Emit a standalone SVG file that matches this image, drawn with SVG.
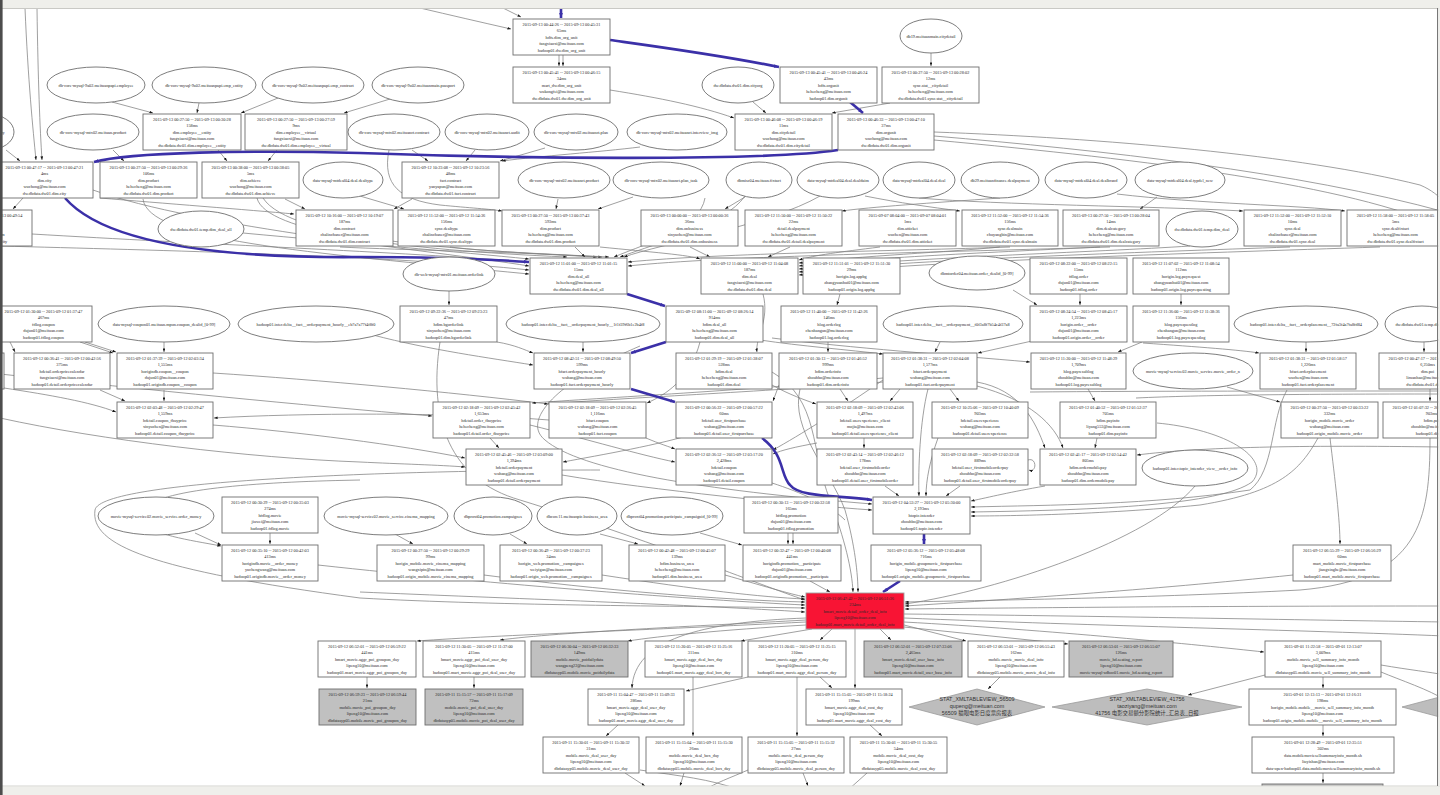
<svg xmlns="http://www.w3.org/2000/svg" width="1440" height="795" viewBox="0 0 1440 795">
<defs>
<marker id="ah" viewBox="0 0 8 6" refX="8" refY="3" markerWidth="3.6" markerHeight="2.8" markerUnits="userSpaceOnUse" orient="auto"><path d="M0,0L8,3L0,6z" fill="#1a1a1a"/></marker>
<marker id="bh" viewBox="0 0 8 6" refX="8" refY="3" markerWidth="5" markerHeight="4" markerUnits="userSpaceOnUse" orient="auto"><path d="M0,0L8,3L0,6z" fill="#3b30a8"/></marker>
<style>
.nd rect{fill:#fff;stroke:#6e6e6e;stroke-width:0.9}
.g rect{fill:#c0c0c0}
.r rect{fill:#f81434;stroke:#a0a0a0}
text{font-family:"Liberation Serif","Times New Roman",serif;font-size:4.3px;fill:#2a2a2a;text-anchor:middle}
.el ellipse{fill:#fff;stroke:#6e6e6e;stroke-width:0.9}
.dm polygon{fill:#bdbdbd;stroke:#9a9a9a;stroke-width:0.8}
.dm text{font-family:"Liberation Sans","Noto Sans CJK SC",Arial,sans-serif;font-size:5.4px;fill:#333}
#edges path{fill:none;stroke:#808080;stroke-width:0.75}
#edges path.m{marker-end:url(#ah)}
#edges path.hl{stroke:#3b30a8;stroke-width:2.6;marker-end:url(#bh)}
</style>
</defs>
<rect x="0" y="0" width="1440" height="795" fill="#fff"/>
<g id="edges">
<path class="m" d="M25,8 C28,80 33,130 36,160"/>
<path class="m" d="M37,8 C38,80 40,130 42,160"/>
<path class="m" d="M420,8 C450,15 480,22 511,29"/>
<path class="m" d="M503,8 L521,17"/>
<path class="m" d="M559,55 L559,66"/>
<path class="m" d="M563,55 L563,66"/>
<path class="m" d="M610,90 C660,98 700,106 734,118"/>
<path class="m" d="M931,53 L931,66"/>
<path class="m" d="M753,102 L766,113"/>
<path class="m" d="M890,103 L832,113"/>
<path class="m" d="M112,102 L153,113"/>
<path class="m" d="M199,103 L197,113"/>
<path class="m" d="M278,98 L241,113"/>
<path class="m" d="M390,99 L344,113"/>
<path class="m" d="M218,150 L227,161"/>
<path class="m" d="M277,150 L268,161"/>
<path class="m" d="M113,150 L124,161"/>
<path class="m" d="M6,150 L20,161"/>
<path class="m" d="M412,150 L428,161"/>
<path class="m" d="M475,150 L466,161"/>
<path class="m" d="M545,148 L500,161"/>
<path class="m" d="M640,147 C600,152 540,156 502,161"/>
<path d="M934,132 C1100,138 1300,155 1420,185 C1432,190 1438,196 1445,202"/>
<path d="M934,136 C1100,150 1300,172 1445,212"/>
<path d="M934,140 C1150,160 1350,185 1445,228"/>
<path class="m" d="M23,198 L13,209"/>
<path class="m" d="M100,198 C160,203 250,210 294,214"/>
<path class="m" d="M285,199 L305,209"/>
<path class="m" d="M412,199 L394,209"/>
<path class="m" d="M360,196 L404,209"/>
<path class="m" d="M389,150 C382,185 400,200 440,205 C470,208 490,209 502,211"/>
<path class="m" d="M558,199 L556,209"/>
<path class="m" d="M633,197 L598,209"/>
<path class="m" d="M745,197 L725,209"/>
<path class="m" d="M865,196 C900,203 930,207 960,211"/>
<path class="m" d="M1000,198 C930,203 870,207 842,211"/>
<path class="m" d="M1157,197 L1140,209"/>
<path class="m" d="M1117,194 C1200,204 1300,205 1345,211"/>
<path class="m" d="M919,198 C1000,205 1150,206 1243,211"/>
<path class="m" d="M93,190 C200,228 430,250 529,266"/>
<path class="m" d="M0,246 C150,250 400,256 529,270"/>
<path class="m" d="M32,234 C200,244 400,252 529,262"/>
<path class="m" d="M143,199 C148,240 300,252 529,274"/>
<path class="m" d="M243,233 C350,243 460,252 529,259"/>
<path class="m" d="M257,198 C265,232 400,250 567,257"/>
<path class="m" d="M263,198 C290,240 460,250 597,257"/>
<path class="m" d="M340,247 C400,250 520,252 602,257"/>
<path class="m" d="M450,247 C490,252 570,255 609,257"/>
<path class="m" d="M575,247 L585,257"/>
<path class="m" d="M705,198 C700,228 650,242 614,257"/>
<path class="m" d="M745,196 C725,225 660,242 620,257"/>
<path class="m" d="M820,196 C770,225 660,244 624,257"/>
<path class="m" d="M690,247 L710,257"/>
<path class="m" d="M790,247 L768,257"/>
<path class="m" d="M880,247 C840,252 815,255 799,260"/>
<path class="m" d="M1000,247 C950,252 860,256 799,263"/>
<path class="m" d="M1100,247 C1000,252 860,258 799,266"/>
<path class="m" d="M1190,246 C1100,252 900,258 799,269"/>
<path class="m" d="M1290,247 C1150,252 900,260 799,272"/>
<path class="m" d="M1380,247 C1200,253 900,262 799,275"/>
<path class="m" d="M1010,247 C900,251 720,253 628,262"/>
<path class="m" d="M1110,247 C950,252 720,256 628,266"/>
<path class="m" d="M600,247 C650,252 690,255 700,259"/>
<path class="m" d="M449,291 L449,305"/>
<path class="m" d="M763,294 C770,320 755,338 757,352"/>
<path class="m" d="M840,294 L837,305"/>
<path class="m" d="M1013,290 L1037,305"/>
<path class="m" d="M1080,294 L1080,305"/>
<path class="m" d="M1181,294 L1181,305"/>
<path class="m" d="M164,342 L164,352"/>
<path class="m" d="M85,342 L116,352"/>
<path class="m" d="M80,342 L113,353"/>
<path class="m" d="M10,342 L15,352"/>
<path class="m" d="M373,335 C430,350 490,358 533,365"/>
<path class="m" d="M497,342 C515,345 525,350 533,353"/>
<path class="m" d="M440,342 C428,420 450,480 520,500 C650,540 760,585 805,600"/>
<path class="m" d="M583,342 L583,352"/>
<path class="m" d="M700,342 C690,380 665,395 647,403"/>
<path class="m" d="M828,342 L828,352"/>
<path class="m" d="M760,340 C800,346 850,350 883,354"/>
<path class="m" d="M940,342 L935,352"/>
<path class="m" d="M1032,341 L978,353"/>
<path class="m" d="M772,338 C850,348 950,355 1030,362"/>
<path class="m" d="M1142,342 L1118,352"/>
<path class="m" d="M1143,343 C1200,347 1240,350 1259,353"/>
<path class="m" d="M1306,342 L1306,352"/>
<path class="m" d="M1424,342 L1424,352"/>
<path class="m" d="M1430,389 L1430,401"/>
<path class="m" d="M1227,387 L1280,402"/>
<path class="m" d="M1088,389 L1095,401"/>
<path d="M1440,391 C1300,391 1150,391 1030,392"/>
<path d="M1440,394 C1300,394 1200,395 1136,398"/>
<path class="m" d="M1287,390 C1270,420 1275,470 1250,490 C1150,505 1050,505 971,507"/>
<path class="m" d="M1157,423 C1230,430 1272,460 1252,482 C1220,505 1100,510 971,512"/>
<path class="m" d="M1097,438 L1095,448"/>
<path class="m" d="M1330,438 C1335,480 1340,520 1340,544"/>
<path class="m" d="M1318,438 C1300,470 1280,492 1200,505 C1100,515 1000,516 971,516"/>
<path class="m" d="M1430,438 C1430,520 1420,580 1300,590 C1150,598 1000,600 905,602"/>
<path class="m" d="M1440,447 C1300,445 1200,447 1137,455"/>
<path class="m" d="M164,390 L164,401"/>
<path class="m" d="M100,390 L125,401"/>
<path class="m" d="M4,388 C50,395 90,402 116,412"/>
<path class="m" d="M0,374 C150,390 300,405 432,416"/>
<path class="m" d="M213,373 C320,380 450,392 548,404"/>
<path class="m" d="M549,420 C450,412 300,413 214,418"/>
<path class="m" d="M213,425 C300,432 400,445 465,458"/>
<path class="m" d="M0,418 C100,440 250,458 360,462 C400,464 440,465 465,467"/>
<path class="m" d="M600,470 C400,470 100,480 95,510 C90,545 150,570 360,598 C500,606 700,606 805,608"/>
<path class="m" d="M490,438 L499,448"/>
<path class="m" d="M646,438 C660,444 670,447 675,449"/>
<path class="m" d="M700,432 C660,445 600,455 563,462"/>
<path class="m" d="M530,425 C590,440 640,455 675,462"/>
<path class="m" d="M640,346 C560,380 520,420 545,440 C580,470 700,490 872,504"/>
<path class="m" d="M562,475 C650,490 800,505 872,510"/>
<path class="m" d="M883,378 C750,390 600,398 532,403"/>
<path class="m" d="M883,382 C760,392 620,398 548,404"/>
<path class="m" d="M772,385 C790,395 805,400 816,404"/>
<path class="m" d="M840,389 L848,401"/>
<path class="m" d="M900,389 L890,401"/>
<path class="m" d="M950,389 L959,401"/>
<path class="m" d="M928,389 C920,420 918,470 919,496"/>
<path class="m" d="M977,382 C1020,390 1035,420 1045,448"/>
<path class="m" d="M977,386 C1030,400 1055,425 1063,448"/>
<path class="m" d="M864,438 L864,448"/>
<path class="m" d="M938,438 C930,460 926,480 926,496"/>
<path class="m" d="M885,486 L899,496"/>
<path class="m" d="M960,486 L946,496"/>
<path class="m" d="M1028,460 C1037,457 1037,473 1029,470"/>
<path class="m" d="M1045,486 C1010,492 990,497 971,501"/>
<path class="m" d="M772,372 C820,400 810,450 830,500 C845,540 852,570 853,592"/>
<path class="m" d="M800,389 C790,430 830,470 845,510 C855,545 858,575 858,592"/>
<path class="m" d="M883,380 C840,410 800,435 773,450"/>
<path class="m" d="M779,385 L773,401"/>
<path class="m" d="M817,443 C795,447 782,450 773,454"/>
<path d="M772,483 C800,492 830,505 845,520"/>
<path class="m" d="M788,533 L788,544"/>
<path class="m" d="M793,533 L793,544"/>
<path class="m" d="M700,533 L742,545"/>
<path class="m" d="M270,533 L270,544"/>
<path class="m" d="M195,533 L221,545"/>
<path class="m" d="M395,534 L413,544"/>
<path class="m" d="M510,534 L527,544"/>
<path class="m" d="M600,534 L638,544"/>
<path class="m" d="M360,480 C250,482 130,490 140,520 C150,535 190,540 221,546"/>
<path class="m" d="M318,565 C500,585 700,600 805,605"/>
<path class="m" d="M484,575 C600,590 720,600 805,602"/>
<path class="m" d="M602,575 C700,590 760,597 805,599"/>
<path class="m" d="M725,575 C760,585 790,594 805,597"/>
<path class="m" d="M360,592 C500,598 700,605 805,612"/>
<path class="m" d="M810,581 L830,592"/>
<path class="m" d="M1293,575 C1150,590 1000,600 905,606"/>
<path class="m" d="M1195,486 C1150,540 1000,590 905,604"/>
<path class="m" d="M1440,606 C1200,606 1000,608 905,609"/>
<path d="M904,614 C1100,616 1300,620 1445,622"/>
<path d="M904,618 C1100,626 1300,630 1445,636"/>
<path class="m" d="M904,622 C1050,630 1200,645 1264,652"/>
<path class="m" d="M806,622 C650,630 500,635 417,641"/>
<path class="m" d="M806,620 C700,626 560,632 500,640"/>
<path class="m" d="M806,625 C720,630 660,636 628,641"/>
<path class="m" d="M806,618 C700,622 634,640 632,688"/>
<path class="m" d="M812,629 L741,641"/>
<path class="m" d="M832,629 L820,640"/>
<path class="m" d="M855,629 L855,688"/>
<path class="m" d="M880,629 L891,640"/>
<path class="m" d="M904,625 L966,641"/>
<path class="m" d="M904,627 L1068,644"/>
<path class="m" d="M1265,675 L1188,695"/>
<path class="m" d="M1323,677 L1323,688"/>
<path class="m" d="M1323,725 L1323,736"/>
<path class="m" d="M1323,773 L1323,783"/>
<path d="M1381,665 C1410,670 1430,672 1445,675"/>
<path d="M1381,672 C1400,680 1430,690 1445,700"/>
<path class="m" d="M1000,677 L988,689"/>
<path class="m" d="M367,677 L367,688"/>
<path class="m" d="M474,677 L474,688"/>
<path class="m" d="M618,725 L606,736"/>
<path class="m" d="M693,677 L693,736"/>
<path class="m" d="M748,677 L686,691"/>
<path class="m" d="M797,677 L797,736"/>
<path class="m" d="M820,677 L832,688"/>
<path class="m" d="M870,725 L882,736"/>
<path class="m" d="M625,773 L645,786"/>
<path class="m" d="M684,773 L680,786"/>
<path d="M748,770 C730,778 715,783 705,790"/>
<path class="m" d="M803,773 L808,786"/>
<path d="M867,773 L848,790"/>
<path d="M640,770 C680,776 710,779 740,790"/>
<path class="hl" d="M561,8 L561,18"/>
<path class="hl" d="M610,40 C660,47 720,55 779,67"/>
<path class="hl" d="M850,102 L863,113"/>
<path class="hl" d="M838,150 C760,162 500,158 360,153 C250,150 130,152 94,162"/>
<path class="hl" d="M65,198 C110,250 250,258 360,257 C450,257 500,260 529,262"/>
<path class="hl" d="M627,294 L665,306"/>
<path class="hl" d="M666,342 L631,353"/>
<path class="hl" d="M631,389 L675,402"/>
<path class="hl" d="M762,438 C785,455 780,475 790,485 C800,498 840,495 872,500"/>
<path class="hl" d="M924,533 L924,544"/>
<path class="hl" d="M900,581 L883,592"/>
</g>
<g id="ellipses">
<g id="e_employee" class="el"><ellipse cx="96" cy="85" rx="49" ry="18"/><text x="96" y="86.5">db-core-mysql-9a02.meituanpapi.employee</text></g>
<g id="e_emp_entity" class="el"><ellipse cx="204" cy="85" rx="52" ry="18"/><text x="204" y="86.5">db-core-mysql-9a02.meituanpapi.emp_entity</text></g>
<g id="e_emp_contract" class="el"><ellipse cx="313" cy="85" rx="51" ry="18"/><text x="313" y="86.5">db-core-mysql-9a02.meituanpapi.emp_contract</text></g>
<g id="e_passport" class="el"><ellipse cx="418" cy="85" rx="46" ry="18"/><text x="418" y="86.5">db-core-mysql-9a02.meituanmain.passport</text></g>
<g id="e_cityorg" class="el"><ellipse cx="738" cy="85" rx="36" ry="18"/><text x="738" y="86.5">dw.dbdata.dw01.dim.cityorg</text></g>
<g id="e_citydetail" class="el"><ellipse cx="931" cy="36" rx="31" ry="17"/><text x="931" y="37.5">db19.meituanmain.citydetail</text></g>
<g id="e_city" class="el"><ellipse cx="-12" cy="132" rx="26" ry="18"/><text x="-12" y="133.5">mtx02.meituan.city</text></g>
<g id="e_product" class="el"><ellipse cx="93" cy="132" rx="46" ry="18"/><text x="93" y="133.5">db-core-mysql-mtx02.meituan.product</text></g>
<g id="e_contract" class="el"><ellipse cx="394" cy="132" rx="46" ry="18"/><text x="394" y="133.5">db-core-mysql-mtx02.meituanct.contract</text></g>
<g id="e_audit" class="el"><ellipse cx="487" cy="132" rx="42" ry="18"/><text x="487" y="133.5">db-core-mysql-mtx02.meituanct.audit</text></g>
<g id="e_plan" class="el"><ellipse cx="576" cy="132" rx="42" ry="18"/><text x="576" y="133.5">db-core-mysql-mtx02.meituanct.plan</text></g>
<g id="e_interview" class="el"><ellipse cx="677" cy="132" rx="50" ry="18"/><text x="677" y="133.5">db-core-mysql-mtx02.meituanct.interview_img</text></g>
<g id="e_dealtype" class="el"><ellipse cx="343" cy="180" rx="40" ry="18"/><text x="343" y="181.5">data-mysql-mtdeal04.deal.dealtype</text></g>
<g id="e_ct_product" class="el"><ellipse cx="564" cy="180" rx="46" ry="18"/><text x="564" y="181.5">db-core-mysql-mtx02.meituanct.product</text></g>
<g id="e_plan_task" class="el"><ellipse cx="661" cy="180" rx="48" ry="18"/><text x="661" y="181.5">db-core-mysql-mtx02.meituanct.plan_task</text></g>
<g id="e_fixtact" class="el"><ellipse cx="759" cy="180" rx="33" ry="18"/><text x="759" y="181.5">dbmisc04.meituan.fixtact</text></g>
<g id="e_dealdaim" class="el"><ellipse cx="838" cy="180" rx="41" ry="18"/><text x="838" y="181.5">data-mysql-mtdeal04.deal.dealdaim</text></g>
<g id="e_deal" class="el"><ellipse cx="919" cy="180" rx="36" ry="18"/><text x="919" y="181.5">data-mysql-mtdeal04.deal.deal</text></g>
<g id="e_dealpayment" class="el"><ellipse cx="1000" cy="180" rx="39" ry="18"/><text x="1000" y="181.5">db29.meituanfinance.dealpayment</text></g>
<g id="e_dealbrand" class="el"><ellipse cx="1086" cy="180" rx="41" ry="18"/><text x="1086" y="181.5">data-mysql-mtdeal04.deal.dealbrand</text></g>
<g id="e_typdel" class="el"><ellipse cx="1180" cy="180" rx="45" ry="18"/><text x="1180" y="181.5">data-mysql-mtdeal04.deal.typdel_new</text></g>
<g id="e_temp_deal_all" class="el"><ellipse cx="201" cy="229" rx="43" ry="18"/><text x="201" y="230.5">dw.dbdata.dw01.temp.dim_deal_all</text></g>
<g id="e_temp_deal" class="el"><ellipse cx="1202" cy="229" rx="36" ry="18"/><text x="1202" y="230.5">dw.dbdata.dw01.temp.dim_deal</text></g>
<g id="e_orderlink" class="el"><ellipse cx="449" cy="274" rx="46" ry="17"/><text x="449" y="275.5">db-web-mysql-mtx01.meituan.orderlink</text></g>
<g id="e_order_dealid" class="el"><ellipse cx="977" cy="273" rx="48" ry="17"/><text x="977" y="274.5">dbmtorder04.meituan.order_dealid_[0-99]</text></g>
<g id="e_coupon_dealid" class="el"><ellipse cx="164" cy="324" rx="66" ry="18"/><text x="164" y="325.5">data-mysql-coupon01.meituan.mpon.coupon_dealid_[0-99]</text></g>
<g id="e_delta_eb7" class="el"><ellipse cx="316" cy="324" rx="78" ry="18"/><text x="316" y="325.5">hadoop01.inter.delta__fact__orderpayment_hourly__eb7a7a77f4f8f0</text></g>
<g id="e_delta_1f1" class="el"><ellipse cx="583" cy="324" rx="77" ry="18"/><text x="583" y="325.5">hadoop01.inter.delta__fact__orderpayment_hourly__1f1f39f6b1e2b4f8</text></g>
<g id="e_delta_f0f" class="el"><ellipse cx="953" cy="324" rx="70" ry="18"/><text x="953" y="325.5">hadoop01.inter.delta__fact__orderpayment__f0f3a8f7b54c4f37a8</text></g>
<g id="e_delta_72f" class="el"><ellipse cx="1306" cy="324" rx="72" ry="18"/><text x="1306" y="325.5">hadoop01.inter.delta__fact__orderplacement__72fa3f4a7fa8fd84</text></g>
<g id="e_temp_poi" class="el"><ellipse cx="1422" cy="324" rx="37" ry="18"/><text x="1422" y="325.5">dw.dbdata.dw01.temp.dim_poi</text></g>
<g id="e_movie_order_n" class="el"><ellipse cx="1193" cy="371" rx="60" ry="18"/><text x="1193" y="372.5">movie-mysql-service02.movie_service.movie_order_n</text></g>
<g id="e_topic_view" class="el"><ellipse cx="1195" cy="468" rx="53" ry="18"/><text x="1195" y="469.5">hadoop01.inter.topic_intender_view__order_info</text></g>
<g id="e_order_money" class="el"><ellipse cx="156" cy="516" rx="58" ry="19"/><text x="156" y="517.5">movie-mysql-service02.movie_service.order_money</text></g>
<g id="e_cinema_mapping" class="el"><ellipse cx="386" cy="516" rx="62" ry="19"/><text x="386" y="517.5">movie-mysql-service02.movie_service.cinema_mapping</text></g>
<g id="e_campaignes" class="el"><ellipse cx="493" cy="516" rx="39" ry="19"/><text x="493" y="517.5">dbproxt04.promotion.campaignes</text></g>
<g id="e_business_area" class="el"><ellipse cx="577" cy="516" rx="40" ry="19"/><text x="577" y="517.5">dbcore11.meituanpic.business_area</text></g>
<g id="e_participate" class="el"><ellipse cx="672" cy="516" rx="51" ry="19"/><text x="672" y="517.5">dbproxt04.promotion.participate_campaignid_[0-99]</text></g>
</g>
<g id="boxes">
<g id="n_hdfs_dim_org_unit" class="nd" transform="translate(513,19)"><rect width="97" height="36"/><text y="6.5"><tspan x="48.5">2015-09-13 00:44:26 -- 2015-09-13 00:45:31</tspan><tspan x="48.5" dy="6.5">65ms</tspan><tspan x="48.5" dy="6.5">hdfs.dim_org_unit</tspan><tspan x="48.5" dy="6.5">fangxiaoxi@meituan.com</tspan><tspan x="48.5" dy="6.5">hadoop01.dw.dim_org_unit</tspan></text></g>
<g id="n_mart_dim_org_unit" class="nd" transform="translate(513,67)"><rect width="97" height="36"/><text y="6.5"><tspan x="48.5">2015-09-13 00:45:41 -- 2015-09-13 00:46:15</tspan><tspan x="48.5" dy="6.5">34ms</tspan><tspan x="48.5" dy="6.5">mart_dw.dim_org_unit</tspan><tspan x="48.5" dy="6.5">wukongfei@meituan.com</tspan><tspan x="48.5" dy="6.5">dw.dbdata.dw01.dw.dim_org_unit</tspan></text></g>
<g id="n_hdfs_orgunit" class="nd" transform="translate(780,67)"><rect width="97" height="36"/><text y="6.5"><tspan x="48.5">2015-09-13 00:45:41 -- 2015-09-13 00:46:24</tspan><tspan x="48.5" dy="6.5">43ms</tspan><tspan x="48.5" dy="6.5">hdfs.orgunit</tspan><tspan x="48.5" dy="6.5">hehecheng@meituan.com</tspan><tspan x="48.5" dy="6.5">hadoop01.dim.orgunit</tspan></text></g>
<g id="n_sync_stat_citydetail" class="nd" transform="translate(882,67)"><rect width="97" height="36"/><text y="6.5"><tspan x="48.5">2015-09-13 00:27:50 -- 2015-09-13 00:28:02</tspan><tspan x="48.5" dy="6.5">12ms</tspan><tspan x="48.5" dy="6.5">sync.stat__citydetail</tspan><tspan x="48.5" dy="6.5">hehecheng@meituan.com</tspan><tspan x="48.5" dy="6.5">dw.dbdata.dw01.sync.stat__citydetail</tspan></text></g>
<g id="n_dim_employee_entity" class="nd" transform="translate(143,114)"><rect width="98" height="36"/><text y="6.5"><tspan x="49">2015-09-13 00:27:50 -- 2015-09-13 00:30:28</tspan><tspan x="49" dy="6.5">158ms</tspan><tspan x="49" dy="6.5">dim.employee__entity</tspan><tspan x="49" dy="6.5">fangxiaoxi@meituan.com</tspan><tspan x="49" dy="6.5">dw.dbdata.dw01.dim.employee__entity</tspan></text></g>
<g id="n_dim_employee_virtual" class="nd" transform="translate(245,114)"><rect width="102" height="36"/><text y="6.5"><tspan x="51">2015-09-13 00:27:50 -- 2015-09-13 00:27:59</tspan><tspan x="51" dy="6.5">9ms</tspan><tspan x="51" dy="6.5">dim.employee__virtual</tspan><tspan x="51" dy="6.5">fangxiaoxi@meituan.com</tspan><tspan x="51" dy="6.5">dw.dbdata.dw01.dim.employee__virtual</tspan></text></g>
<g id="n_dim_citydetail" class="nd" transform="translate(735,114)"><rect width="97" height="36"/><text y="6.5"><tspan x="48.5">2015-09-13 00:46:08 -- 2015-09-13 00:46:19</tspan><tspan x="48.5" dy="6.5">11ms</tspan><tspan x="48.5" dy="6.5">dim.citydetail</tspan><tspan x="48.5" dy="6.5">wuchong@meituan.com</tspan><tspan x="48.5" dy="6.5">dw.dbdata.dw01.dim.citydetail</tspan></text></g>
<g id="n_dim_orgunit" class="nd" transform="translate(838,114)"><rect width="96" height="36"/><text y="6.5"><tspan x="48">2015-09-13 00:46:33 -- 2015-09-13 00:47:10</tspan><tspan x="48" dy="6.5">37ms</tspan><tspan x="48" dy="6.5">dim.orgunit</tspan><tspan x="48" dy="6.5">wuchong@meituan.com</tspan><tspan x="48" dy="6.5">dw.dbdata.dw01.dim.orgunit</tspan></text></g>
<g id="n_dim_city" class="nd" transform="translate(-4,162)"><rect width="97" height="36"/><text y="6.5"><tspan x="48.5">2015-09-13 00:47:17 -- 2015-09-13 00:47:21</tspan><tspan x="48.5" dy="6.5">4ms</tspan><tspan x="48.5" dy="6.5">dim.city</tspan><tspan x="48.5" dy="6.5">wuchong@meituan.com</tspan><tspan x="48.5" dy="6.5">dw.dbdata.dw01.dim.city</tspan></text></g>
<g id="n_dim_product" class="nd" transform="translate(100,162)"><rect width="97" height="36"/><text y="6.5"><tspan x="48.5">2015-09-13 00:27:50 -- 2015-09-13 00:29:36</tspan><tspan x="48.5" dy="6.5">106ms</tspan><tspan x="48.5" dy="6.5">dim.product</tspan><tspan x="48.5" dy="6.5">hehecheng@meituan.com</tspan><tspan x="48.5" dy="6.5">dw.dbdata.dw01.dim.product</tspan></text></g>
<g id="n_dim_achieve" class="nd" transform="translate(202,162)"><rect width="97" height="36"/><text y="6.5"><tspan x="48.5">2015-09-13 00:38:00 -- 2015-09-13 00:38:05</tspan><tspan x="48.5" dy="6.5">5ms</tspan><tspan x="48.5" dy="6.5">dim.achieve</tspan><tspan x="48.5" dy="6.5">wuchong@meituan.com</tspan><tspan x="48.5" dy="6.5">dw.dbdata.dw01.dim.achieve</tspan></text></g>
<g id="n_fact_contract" class="nd" transform="translate(402,162)"><rect width="97" height="36"/><text y="6.5"><tspan x="48.5">2015-09-12 10:23:08 -- 2015-09-12 10:23:56</tspan><tspan x="48.5" dy="6.5">48ms</tspan><tspan x="48.5" dy="6.5">fact.contract</tspan><tspan x="48.5" dy="6.5">yanyapun@meituan.com</tspan><tspan x="48.5" dy="6.5">dw.dbdata.dw01.fact.contract</tspan></text></g>
<g id="n_dim_ebcity" class="nd" transform="translate(-65,210)"><rect width="97" height="36"/><text y="6.5"><tspan x="48.5">2015-09-13 00:49:50 -- 2015-09-13 00:49:54</tspan><tspan x="48.5" dy="6.5">4ms</tspan><tspan x="48.5" dy="6.5">dim.ebcity</tspan><tspan x="48.5" dy="6.5">wuchong@meituan.com</tspan><tspan x="48.5" dy="6.5">dw.dbdata.dw01.dim.ebcity</tspan></text></g>
<g id="n_dim_contract" class="nd" transform="translate(296,210)"><rect width="97" height="36"/><text y="6.5"><tspan x="48.5">2015-09-12 10:16:00 -- 2015-09-12 10:19:07</tspan><tspan x="48.5" dy="6.5">187ms</tspan><tspan x="48.5" dy="6.5">dim.contract</tspan><tspan x="48.5" dy="6.5">chalinchaner@meituan.com</tspan><tspan x="48.5" dy="6.5">dw.dbdata.dw01.dim.contract</tspan></text></g>
<g id="n_sync_dealtype" class="nd" transform="translate(398,210)"><rect width="97" height="36"/><text y="6.5"><tspan x="48.5">2015-09-12 11:52:00 -- 2015-09-12 11:54:36</tspan><tspan x="48.5" dy="6.5">156ms</tspan><tspan x="48.5" dy="6.5">sync.dealtype</tspan><tspan x="48.5" dy="6.5">chalinchaner@meituan.com</tspan><tspan x="48.5" dy="6.5">dw.dbdata.dw01.sync.dealtype</tspan></text></g>
<g id="n_dim_product_ct" class="nd" transform="translate(502,210)"><rect width="97" height="36"/><text y="6.5"><tspan x="48.5">2015-09-13 00:27:50 -- 2015-09-13 00:37:43</tspan><tspan x="48.5" dy="6.5">593ms</tspan><tspan x="48.5" dy="6.5">dim.product</tspan><tspan x="48.5" dy="6.5">hehecheng@meituan.com</tspan><tspan x="48.5" dy="6.5">dw.dbdata.dw01.dim.product</tspan></text></g>
<g id="n_dim_onbusiness" class="nd" transform="translate(641,210)"><rect width="97" height="36"/><text y="6.5"><tspan x="48.5">2015-09-13 00:00:00 -- 2015-09-13 00:00:36</tspan><tspan x="48.5" dy="6.5">36ms</tspan><tspan x="48.5" dy="6.5">dim.onbusiness</tspan><tspan x="48.5" dy="6.5">xinyuchen@meituan.com</tspan><tspan x="48.5" dy="6.5">dw.dbdata.dw01.dim.onbusiness</tspan></text></g>
<g id="n_detail_dealpayment" class="nd" transform="translate(745,210)"><rect width="97" height="36"/><text y="6.5"><tspan x="48.5">2015-09-12 11:50:00 -- 2015-09-12 11:50:22</tspan><tspan x="48.5" dy="6.5">22ms</tspan><tspan x="48.5" dy="6.5">detail.dealpayment</tspan><tspan x="48.5" dy="6.5">hehecheng@meituan.com</tspan><tspan x="48.5" dy="6.5">dw.dbdata.dw01.detail.dealpayment</tspan></text></g>
<g id="n_dim_atticket" class="nd" transform="translate(859,210)"><rect width="97" height="36"/><text y="6.5"><tspan x="48.5">2015-09-07 08:04:00 -- 2015-09-07 08:04:01</tspan><tspan x="48.5" dy="6.5">1ms</tspan><tspan x="48.5" dy="6.5">dim.atticket</tspan><tspan x="48.5" dy="6.5">wuchen@meituan.com</tspan><tspan x="48.5" dy="6.5">dw.dbdata.dw01.dim.atticket</tspan></text></g>
<g id="n_sync_dealmain" class="nd" transform="translate(962,210)"><rect width="96" height="36"/><text y="6.5"><tspan x="48">2015-09-12 11:52:00 -- 2015-09-12 11:54:36</tspan><tspan x="48" dy="6.5">156ms</tspan><tspan x="48" dy="6.5">sync.dealmain</tspan><tspan x="48" dy="6.5">chuyangbin@meituan.com</tspan><tspan x="48" dy="6.5">dw.dbdata.dw01.sync.dealmain</tspan></text></g>
<g id="n_dim_dealcategory" class="nd" transform="translate(1063,210)"><rect width="96" height="36"/><text y="6.5"><tspan x="48">2015-09-13 00:27:50 -- 2015-09-13 00:28:04</tspan><tspan x="48" dy="6.5">14ms</tspan><tspan x="48" dy="6.5">dim.dealcategory</tspan><tspan x="48" dy="6.5">hehecheng@meituan.com</tspan><tspan x="48" dy="6.5">dw.dbdata.dw01.dim.dealcategory</tspan></text></g>
<g id="n_sync_deal" class="nd" transform="translate(1244,210)"><rect width="97" height="36"/><text y="6.5"><tspan x="48.5">2015-09-12 11:52:00 -- 2015-09-12 11:52:10</tspan><tspan x="48.5" dy="6.5">10ms</tspan><tspan x="48.5" dy="6.5">sync.deal</tspan><tspan x="48.5" dy="6.5">chalinchaner@meituan.com</tspan><tspan x="48.5" dy="6.5">dw.dbdata.dw01.sync.deal</tspan></text></g>
<g id="n_sync_dealfixtact" class="nd" transform="translate(1347,210)"><rect width="97" height="36"/><text y="6.5"><tspan x="48.5">2015-09-12 11:58:00 -- 2015-09-12 11:58:05</tspan><tspan x="48.5" dy="6.5">5ms</tspan><tspan x="48.5" dy="6.5">sync.dealfixtact</tspan><tspan x="48.5" dy="6.5">hehecheng@meituan.com</tspan><tspan x="48.5" dy="6.5">dw.dbdata.dw01.sync.dealfixtact</tspan></text></g>
<g id="n_dim_deal_all" class="nd" transform="translate(530,258)"><rect width="97" height="36"/><text y="6.5"><tspan x="48.5">2015-09-12 11:01:00 -- 2015-09-12 11:01:15</tspan><tspan x="48.5" dy="6.5">15ms</tspan><tspan x="48.5" dy="6.5">dim.deal_all</tspan><tspan x="48.5" dy="6.5">hehecheng@meituan.com</tspan><tspan x="48.5" dy="6.5">dw.dbdata.dw01.dim.deal_all</tspan></text></g>
<g id="n_dim_deal" class="nd" transform="translate(701,258)"><rect width="97" height="36"/><text y="6.5"><tspan x="48.5">2015-09-12 11:00:00 -- 2015-09-12 11:04:08</tspan><tspan x="48.5" dy="6.5">187ms</tspan><tspan x="48.5" dy="6.5">dim.deal</tspan><tspan x="48.5" dy="6.5">fangxiaoxi@meituan.com</tspan><tspan x="48.5" dy="6.5">dw.dbdata.dw01.dim.deal</tspan></text></g>
<g id="n_horigin_log_appbg" class="nd" transform="translate(803,258)"><rect width="97" height="36"/><text y="6.5"><tspan x="48.5">2015-09-12 11:51:01 -- 2015-09-12 11:51:30</tspan><tspan x="48.5" dy="6.5">29ms</tspan><tspan x="48.5" dy="6.5">horigin.log.appbg</tspan><tspan x="48.5" dy="6.5">zhangyuanhui01@meituan.com</tspan><tspan x="48.5" dy="6.5">hadoop01.origin.log.appbg</tspan></text></g>
<g id="n_fdlog_order" class="nd" transform="translate(1030,258)"><rect width="97" height="36"/><text y="6.5"><tspan x="48.5">2015-09-12 08:22:00 -- 2015-09-12 08:22:15</tspan><tspan x="48.5" dy="6.5">15ms</tspan><tspan x="48.5" dy="6.5">fdlog.order</tspan><tspan x="48.5" dy="6.5">dujun01@meituan.com</tspan><tspan x="48.5" dy="6.5">hadoop01.fdlog.order</tspan></text></g>
<g id="n_horigin_log_payrequest" class="nd" transform="translate(1133,258)"><rect width="96" height="36"/><text y="6.5"><tspan x="48">2015-09-12 11:07:02 -- 2015-09-12 11:08:54</tspan><tspan x="48" dy="6.5">112ms</tspan><tspan x="48" dy="6.5">horigin.log.payrequest</tspan><tspan x="48" dy="6.5">zhangyuanhui01@meituan.com</tspan><tspan x="48" dy="6.5">hadoop01.origin.log.payrequesting</tspan></text></g>
<g id="n_fdlog_coupon" class="nd" transform="translate(-5,306)"><rect width="97" height="36"/><text y="6.5"><tspan x="48.5">2015-09-12 01:30:00 -- 2015-09-12 01:37:47</tspan><tspan x="48.5" dy="6.5">467ms</tspan><tspan x="48.5" dy="6.5">fdlog.coupon</tspan><tspan x="48.5" dy="6.5">dujun01@meituan.com</tspan><tspan x="48.5" dy="6.5">hadoop01.fdlog.coupon</tspan></text></g>
<g id="n_hdim_bgorderlink" class="nd" transform="translate(400,306)"><rect width="97" height="36"/><text y="6.5"><tspan x="48.5">2015-09-12 09:22:36 -- 2015-09-12 09:23:23</tspan><tspan x="48.5" dy="6.5">47ms</tspan><tspan x="48.5" dy="6.5">hdim.bgorderlink</tspan><tspan x="48.5" dy="6.5">xinyuchen@meituan.com</tspan><tspan x="48.5" dy="6.5">hadoop01.dim.bgorderlink</tspan></text></g>
<g id="n_hdim_deal_all" class="nd" transform="translate(666,306)"><rect width="97" height="36"/><text y="6.5"><tspan x="48.5">2015-09-12 08:11:00 -- 2015-09-12 08:26:14</tspan><tspan x="48.5" dy="6.5">914ms</tspan><tspan x="48.5" dy="6.5">hdim.deal_all</tspan><tspan x="48.5" dy="6.5">hehecheng@meituan.com</tspan><tspan x="48.5" dy="6.5">hadoop01.dim.deal_all</tspan></text></g>
<g id="n_hlog_orderlog" class="nd" transform="translate(781,306)"><rect width="96" height="36"/><text y="6.5"><tspan x="48">2015-09-12 11:40:00 -- 2015-09-12 11:42:26</tspan><tspan x="48" dy="6.5">146ms</tspan><tspan x="48" dy="6.5">hlog.orderlog</tspan><tspan x="48" dy="6.5">chenhangun@meituan.com</tspan><tspan x="48" dy="6.5">hadoop01.log.orderlog</tspan></text></g>
<g id="n_horigin_order" class="nd" transform="translate(1030,306)"><rect width="97" height="36"/><text y="6.5"><tspan x="48.5">2015-09-12 08:24:54 -- 2015-09-12 08:45:17</tspan><tspan x="48.5" dy="6.5">1,223ms</tspan><tspan x="48.5" dy="6.5">horigin.order__order</tspan><tspan x="48.5" dy="6.5">dujun01@meituan.com</tspan><tspan x="48.5" dy="6.5">hadoop01.origin.order__order</tspan></text></g>
<g id="n_hlog_payrequestlog" class="nd" transform="translate(1133,306)"><rect width="96" height="36"/><text y="6.5"><tspan x="48">2015-09-12 11:36:00 -- 2015-09-12 11:38:36</tspan><tspan x="48" dy="6.5">156ms</tspan><tspan x="48" dy="6.5">hlog.payrequestlog</tspan><tspan x="48" dy="6.5">chenhangun@meituan.com</tspan><tspan x="48" dy="6.5">hadoop01.log.payrequestlog</tspan></text></g>
<g id="n_left_r8" class="nd" transform="translate(-92,353)"><rect width="96" height="36"/></g>
<g id="n_hdetail_orderpricecalendar" class="nd" transform="translate(14,353)"><rect width="96" height="36"/><text y="6.5"><tspan x="48">2015-09-12 00:36:41 -- 2015-09-12 00:42:56</tspan><tspan x="48" dy="6.5">375ms</tspan><tspan x="48" dy="6.5">hdetail.orderpricecalendar</tspan><tspan x="48" dy="6.5">fangxiaoxi@meituan.com</tspan><tspan x="48" dy="6.5">hadoop01.detail.orderpricecalendar</tspan></text></g>
<g id="n_horigindb_coupon" class="nd" transform="translate(117,353)"><rect width="96" height="36"/><text y="6.5"><tspan x="48">2015-09-12 01:37:39 -- 2015-09-12 02:03:34</tspan><tspan x="48" dy="6.5">1,555ms</tspan><tspan x="48" dy="6.5">horigindb.coupon__coupon</tspan><tspan x="48" dy="6.5">dujun01@meituan.com</tspan><tspan x="48" dy="6.5">hadoop01.origindb.coupon__coupon</tspan></text></g>
<g id="n_hfact_orderpayment_hourly" class="nd" transform="translate(534,353)"><rect width="96" height="36"/><text y="6.5"><tspan x="48">2015-09-12 08:42:51 -- 2015-09-12 08:49:50</tspan><tspan x="48" dy="6.5">599ms</tspan><tspan x="48" dy="6.5">hfact.orderpayment_hourly</tspan><tspan x="48" dy="6.5">wuhang@meituan.com</tspan><tspan x="48" dy="6.5">hadoop01.fact.orderpayment_hourly</tspan></text></g>
<g id="n_hdim_deal" class="nd" transform="translate(676,353)"><rect width="96" height="36"/><text y="6.5"><tspan x="48">2015-09-12 01:29:19 -- 2015-09-12 01:38:07</tspan><tspan x="48" dy="6.5">528ms</tspan><tspan x="48" dy="6.5">hdim.deal</tspan><tspan x="48" dy="6.5">hehecheng@meituan.com</tspan><tspan x="48" dy="6.5">hadoop01.dim.deal</tspan></text></g>
<g id="n_hdim_orderinfo" class="nd" transform="translate(779,353)"><rect width="98" height="36"/><text y="6.5"><tspan x="49">2015-09-12 01:30:13 -- 2015-09-12 01:46:52</tspan><tspan x="49" dy="6.5">999ms</tspan><tspan x="49" dy="6.5">hdim.orderinfo</tspan><tspan x="49" dy="6.5">zhouhbo@meituan.com</tspan><tspan x="49" dy="6.5">hadoop01.dim.orderinfo</tspan></text></g>
<g id="n_hfact_orderpayment" class="nd" transform="translate(883,353)"><rect width="94" height="36"/><text y="6.5"><tspan x="47">2015-09-12 01:38:31 -- 2015-09-12 02:04:08</tspan><tspan x="47" dy="6.5">1,577ms</tspan><tspan x="47" dy="6.5">hfact.orderpayment</tspan><tspan x="47" dy="6.5">wuhang@meituan.com</tspan><tspan x="47" dy="6.5">hadoop01.fact.orderpayment</tspan></text></g>
<g id="n_hlog_payresultlog" class="nd" transform="translate(1031,353)"><rect width="95" height="36"/><text y="6.5"><tspan x="47.5">2015-09-12 11:20:00 -- 2015-09-12 11:48:29</tspan><tspan x="47.5" dy="6.5">1,709ms</tspan><tspan x="47.5" dy="6.5">hlog.payresultlog</tspan><tspan x="47.5" dy="6.5">zhouhbo@meituan.com</tspan><tspan x="47.5" dy="6.5">hadoop01.log.payresultlog</tspan></text></g>
<g id="n_hfact_orderplacement" class="nd" transform="translate(1260,353)"><rect width="96" height="36"/><text y="6.5"><tspan x="48">2015-09-12 01:38:31 -- 2015-09-12 01:58:57</tspan><tspan x="48" dy="6.5">1,226ms</tspan><tspan x="48" dy="6.5">hfact.orderplacement</tspan><tspan x="48" dy="6.5">wuchen@meituan.com</tspan><tspan x="48" dy="6.5">hadoop01.fact.orderplacement</tspan></text></g>
<g id="n_dim_poi" class="nd" transform="translate(1379,353)"><rect width="97" height="36"/><text y="6.5"><tspan x="48.5">2015-09-12 00:47:17 -- 2015-09-12 02:31:27</tspan><tspan x="48.5" dy="6.5">6,250ms</tspan><tspan x="48.5" dy="6.5">dim.poi</tspan><tspan x="48.5" dy="6.5">liruanhao@meituan.com</tspan><tspan x="48.5" dy="6.5">dw.dbdata.dw01.dim.poi</tspan></text></g>
<g id="n_hdetail_coupon_fbuyprice" class="nd" transform="translate(117,402)"><rect width="96" height="36"/><text y="6.5"><tspan x="48">2015-09-12 02:03:48 -- 2015-09-12 02:29:47</tspan><tspan x="48" dy="6.5">1,559ms</tspan><tspan x="48" dy="6.5">hdetail.coupon_fbuyprice</tspan><tspan x="48" dy="6.5">xinyuchen@meituan.com</tspan><tspan x="48" dy="6.5">hadoop01.detail.coupon_fbuyprice</tspan></text></g>
<g id="n_hdetail_order_fbuyprice" class="nd" transform="translate(433,402)"><rect width="97" height="36"/><text y="6.5"><tspan x="48.5">2015-09-12 02:18:09 -- 2015-09-12 02:45:42</tspan><tspan x="48.5" dy="6.5">1,653ms</tspan><tspan x="48.5" dy="6.5">hdetail.order_fbuyprice</tspan><tspan x="48.5" dy="6.5">hehecheng@meituan.com</tspan><tspan x="48.5" dy="6.5">hadoop01.detail.order_fbuyprice</tspan></text></g>
<g id="n_hfact_coupon" class="nd" transform="translate(549,402)"><rect width="97" height="36"/><text y="6.5"><tspan x="48.5">2015-09-12 02:18:09 -- 2015-09-12 02:36:45</tspan><tspan x="48.5" dy="6.5">1,116ms</tspan><tspan x="48.5" dy="6.5">hfact.coupon</tspan><tspan x="48.5" dy="6.5">wuhang@meituan.com</tspan><tspan x="48.5" dy="6.5">hadoop01.fact.coupon</tspan></text></g>
<g id="n_hdetail_user_firstpurchase" class="nd" transform="translate(676,402)"><rect width="96" height="36"/><text y="6.5"><tspan x="48">2015-09-12 00:56:22 -- 2015-09-12 00:57:22</tspan><tspan x="48" dy="6.5">60ms</tspan><tspan x="48" dy="6.5">hdetail.user_firstpurchase</tspan><tspan x="48" dy="6.5">wuhang@meituan.com</tspan><tspan x="48" dy="6.5">hadoop01.detail.user_firstpurchase</tspan></text></g>
<g id="n_hdetail_ux_client" class="nd" transform="translate(817,402)"><rect width="96" height="36"/><text y="6.5"><tspan x="48">2015-09-12 02:18:09 -- 2015-09-12 02:43:06</tspan><tspan x="48" dy="6.5">1,497ms</tspan><tspan x="48" dy="6.5">hdetail.userexperience_client</tspan><tspan x="48" dy="6.5">mojia@meituan.com</tspan><tspan x="48" dy="6.5">hadoop01.detail.userexperience_client</tspan></text></g>
<g id="n_hdetail_ux" class="nd" transform="translate(932,402)"><rect width="96" height="36"/><text y="6.5"><tspan x="48">2015-09-12 10:25:06 -- 2015-09-12 10:40:09</tspan><tspan x="48" dy="6.5">903ms</tspan><tspan x="48" dy="6.5">hdetail.userexperience</tspan><tspan x="48" dy="6.5">wuhang@meituan.com</tspan><tspan x="48" dy="6.5">hadoop01.detail.userexperience</tspan></text></g>
<g id="n_hdim_payinfo" class="nd" transform="translate(1060,402)"><rect width="96" height="36"/><text y="6.5"><tspan x="48">2015-09-12 01:40:52 -- 2015-09-12 01:52:37</tspan><tspan x="48" dy="6.5">705ms</tspan><tspan x="48" dy="6.5">hdim.payinfo</tspan><tspan x="48" dy="6.5">liyang553@meituan.com</tspan><tspan x="48" dy="6.5">hadoop01.dim.payinfo</tspan></text></g>
<g id="n_horigin_mobile_movie_order" class="nd" transform="translate(1281,402)"><rect width="97" height="36"/><text y="6.5"><tspan x="48.5">2015-09-12 00:27:50 -- 2015-09-12 00:33:22</tspan><tspan x="48.5" dy="6.5">332ms</tspan><tspan x="48.5" dy="6.5">horigin_mobile.movie_order</tspan><tspan x="48.5" dy="6.5">wuhang@meituan.com</tspan><tspan x="48.5" dy="6.5">hadoop01.origin_mobile.movie_order</tspan></text></g>
<g id="n_hdim_poi" class="nd" transform="translate(1383,402)"><rect width="97" height="36"/><text y="6.5"><tspan x="48.5">2015-09-12 01:07:32 -- 2015-09-12 01:22:35</tspan><tspan x="48.5" dy="6.5">903ms</tspan><tspan x="48.5" dy="6.5">hdim.poi</tspan><tspan x="48.5" dy="6.5">zhouhbo@meituan.com</tspan><tspan x="48.5" dy="6.5">hadoop01.dim.poi</tspan></text></g>
<g id="n_hdetail_orderpayment" class="nd" transform="translate(466,449)"><rect width="96" height="36"/><text y="6.5"><tspan x="48">2015-09-12 02:45:46 -- 2015-09-12 03:09:00</tspan><tspan x="48" dy="6.5">1,394ms</tspan><tspan x="48" dy="6.5">hdetail.orderpayment</tspan><tspan x="48" dy="6.5">wuhang@meituan.com</tspan><tspan x="48" dy="6.5">hadoop01.detail.orderpayment</tspan></text></g>
<g id="n_hdetail_coupon" class="nd" transform="translate(676,449)"><rect width="96" height="36"/><text y="6.5"><tspan x="48">2015-09-12 02:36:52 -- 2015-09-12 03:17:20</tspan><tspan x="48" dy="6.5">2,428ms</tspan><tspan x="48" dy="6.5">hdetail.coupon</tspan><tspan x="48" dy="6.5">wuhang@meituan.com</tspan><tspan x="48" dy="6.5">hadoop01.detail.coupon</tspan></text></g>
<g id="n_hdetail_user_firstmobileorder" class="nd" transform="translate(817,449)"><rect width="96" height="36"/><text y="6.5"><tspan x="48">2015-09-12 02:43:14 -- 2015-09-12 02:46:12</tspan><tspan x="48" dy="6.5">178ms</tspan><tspan x="48" dy="6.5">hdetail.user_firstmobileorder</tspan><tspan x="48" dy="6.5">zhouhbo@meituan.com</tspan><tspan x="48" dy="6.5">hadoop01.detail.user_firstmobileorder</tspan></text></g>
<g id="n_hdetail_user_firstmobilepay" class="nd" transform="translate(932,449)"><rect width="96" height="36"/><text y="6.5"><tspan x="48">2015-09-12 02:18:09 -- 2015-09-12 02:32:58</tspan><tspan x="48" dy="6.5">889ms</tspan><tspan x="48" dy="6.5">hdetail.user_firstmobileorderpay</tspan><tspan x="48" dy="6.5">zhouhbo@meituan.com</tspan><tspan x="48" dy="6.5">hadoop01.detail.user_firstmobileorderpay</tspan></text></g>
<g id="n_hdim_ordermobilepay" class="nd" transform="translate(1040,449)"><rect width="96" height="36"/><text y="6.5"><tspan x="48">2015-09-12 02:41:17 -- 2015-09-12 02:54:42</tspan><tspan x="48" dy="6.5">805ms</tspan><tspan x="48" dy="6.5">hdim.ordermobilepay</tspan><tspan x="48" dy="6.5">zhouhbo@meituan.com</tspan><tspan x="48" dy="6.5">hadoop01.dim.ordermobilepay</tspan></text></g>
<g id="n_hfdlog_movie" class="nd" transform="translate(222,497)"><rect width="96" height="36"/><text y="6.5"><tspan x="48">2015-09-12 00:30:29 -- 2015-09-12 00:35:03</tspan><tspan x="48" dy="6.5">274ms</tspan><tspan x="48" dy="6.5">hfdlog.movie</tspan><tspan x="48" dy="6.5">jiawei@meituan.com</tspan><tspan x="48" dy="6.5">hadoop01.fdlog.movie</tspan></text></g>
<g id="n_hfdlog_promotion" class="nd" transform="translate(744,497)"><rect width="94" height="36"/><text y="6.5"><tspan x="47">2015-09-12 00:30:13 -- 2015-09-12 00:32:58</tspan><tspan x="47" dy="6.5">165ms</tspan><tspan x="47" dy="6.5">hfdlog.promotion</tspan><tspan x="47" dy="6.5">dujun01@meituan.com</tspan><tspan x="47" dy="6.5">hadoop01.fdlog.promotion</tspan></text></g>
<g id="n_htopic_intender" class="nd" transform="translate(873,497)"><rect width="97" height="37"/><text y="6.5"><tspan x="48.5">2015-09-12 04:53:27 -- 2015-09-12 05:30:00</tspan><tspan x="48.5" dy="6.5">2,193ms</tspan><tspan x="48.5" dy="6.5">htopic.intender</tspan><tspan x="48.5" dy="6.5">zhouhbo@meituan.com</tspan><tspan x="48.5" dy="6.5">hadoop01.topic.intender</tspan></text></g>
<g id="n_horigindb_movie_order_money" class="nd" transform="translate(222,545)"><rect width="96" height="36"/><text y="6.5"><tspan x="48">2015-09-12 00:35:10 -- 2015-09-12 00:42:03</tspan><tspan x="48" dy="6.5">413ms</tspan><tspan x="48" dy="6.5">horigindb.movie__order_money</tspan><tspan x="48" dy="6.5">yuchengwang@meituan.com</tspan><tspan x="48" dy="6.5">hadoop01.origindb.movie__order_money</tspan></text></g>
<g id="n_horigin_mobile_cinema_mapping" class="nd" transform="translate(377,545)"><rect width="107" height="36"/><text y="6.5"><tspan x="53.5">2015-09-12 00:27:50 -- 2015-09-12 00:29:29</tspan><tspan x="53.5" dy="6.5">99ms</tspan><tspan x="53.5" dy="6.5">horigin_mobile.movie_cinema_mapping</tspan><tspan x="53.5" dy="6.5">wangxipin@meituan.com</tspan><tspan x="53.5" dy="6.5">hadoop01.origin_mobile.movie_cinema_mapping</tspan></text></g>
<g id="n_horigin_web_campaignes" class="nd" transform="translate(500,545)"><rect width="102" height="36"/><text y="6.5"><tspan x="51">2015-09-12 00:36:49 -- 2015-09-12 00:37:23</tspan><tspan x="51" dy="6.5">34ms</tspan><tspan x="51" dy="6.5">horigin_web.promotion__campaignes</tspan><tspan x="51" dy="6.5">weiyigan@meituan.com</tspan><tspan x="51" dy="6.5">hadoop01.origin_web.promotion__campaignes</tspan></text></g>
<g id="n_hdim_business_area" class="nd" transform="translate(629,545)"><rect width="96" height="36"/><text y="6.5"><tspan x="48">2015-09-12 00:42:48 -- 2015-09-12 00:45:07</tspan><tspan x="48" dy="6.5">139ms</tspan><tspan x="48" dy="6.5">hdim.business_area</tspan><tspan x="48" dy="6.5">hehecheng@meituan.com</tspan><tspan x="48" dy="6.5">hadoop01.dim.business_area</tspan></text></g>
<g id="n_horigindb_promotion_participate" class="nd" transform="translate(743,545)"><rect width="98" height="36"/><text y="6.5"><tspan x="49">2015-09-12 00:32:47 -- 2015-09-12 00:40:08</tspan><tspan x="49" dy="6.5">441ms</tspan><tspan x="49" dy="6.5">horigindb.promotion__participate</tspan><tspan x="49" dy="6.5">dujun01@meituan.com</tspan><tspan x="49" dy="6.5">hadoop01.origindb.promotion__participate</tspan></text></g>
<g id="n_horigin_mobile_groupmovie" class="nd" transform="translate(871,545)"><rect width="110" height="36"/><text y="6.5"><tspan x="55">2015-09-12 05:36:12 -- 2015-09-12 05:48:08</tspan><tspan x="55" dy="6.5">716ms</tspan><tspan x="55" dy="6.5">horigin_mobile.groupmovie_firstpurchase</tspan><tspan x="55" dy="6.5">lipeng10@meituan.com</tspan><tspan x="55" dy="6.5">hadoop01.origin_mobile.groupmovie_firstpurchase</tspan></text></g>
<g id="n_mart_mobile_firstpurchase" class="nd" transform="translate(1293,545)"><rect width="98" height="36"/><text y="6.5"><tspan x="49">2015-09-12 06:55:29 -- 2015-09-12 06:56:29</tspan><tspan x="49" dy="6.5">60ms</tspan><tspan x="49" dy="6.5">mart_mobile.movie_firstpurchase</tspan><tspan x="49" dy="6.5">jiangxinghe@meituan.com</tspan><tspan x="49" dy="6.5">hadoop01.mart_mobile.movie_firstpurchase</tspan></text></g>
<g id="n_hmart_detail_order_deal_info" class="nd r" transform="translate(806,593)"><rect width="98" height="36"/><text y="6.5"><tspan x="49">2015-09-12 06:47:42 -- 2015-09-12 06:51:36</tspan><tspan x="49" dy="6.5">234ms</tspan><tspan x="49" dy="6.5">hmart_movie.detail_order_deal_info</tspan><tspan x="49" dy="6.5">lipeng10@meituan.com</tspan><tspan x="49" dy="6.5">hadoop01.mart_movie.detail_order_deal_info</tspan></text></g>
<g id="n_hmart_aggr_poi_groupon_day" class="nd" transform="translate(318,641)"><rect width="98" height="36"/><text y="6.5"><tspan x="49">2015-09-12 06:52:01 -- 2015-09-12 06:59:22</tspan><tspan x="49" dy="6.5">441ms</tspan><tspan x="49" dy="6.5">hmart_movie.aggr_poi_groupon_day</tspan><tspan x="49" dy="6.5">lipeng10@meituan.com</tspan><tspan x="49" dy="6.5">hadoop01.mart_movie.aggr_poi_groupon_day</tspan></text></g>
<g id="n_hmart_aggr_poi_deal_user_day" class="nd" transform="translate(423,641)"><rect width="102" height="36"/><text y="6.5"><tspan x="51">2015-09-12 11:30:05 -- 2015-09-12 11:37:00</tspan><tspan x="51" dy="6.5">415ms</tspan><tspan x="51" dy="6.5">hmart_movie.aggr_poi_deal_user_day</tspan><tspan x="51" dy="6.5">lipeng10@meituan.com</tspan><tspan x="51" dy="6.5">hadoop01.mart_movie.aggr_poi_deal_user_day</tspan></text></g>
<g id="n_mobile_movie_poidailydata" class="nd g" transform="translate(531,641)"><rect width="97" height="36"/><text y="6.5"><tspan x="48.5">2015-09-12 06:30:04 -- 2015-09-12 06:32:33</tspan><tspan x="48.5" dy="6.5">149ms</tspan><tspan x="48.5" dy="6.5">mobile.movie_poidailydata</tspan><tspan x="48.5" dy="6.5">wangpeng22@meituan.com</tspan><tspan x="48.5" dy="6.5">dbdatasyp05.mobile.movie_poidailydata</tspan></text></g>
<g id="n_hmart_aggr_deal_box_day" class="nd" transform="translate(645,641)"><rect width="97" height="36"/><text y="6.5"><tspan x="48.5">2015-09-12 11:20:05 -- 2015-09-12 11:25:16</tspan><tspan x="48.5" dy="6.5">311ms</tspan><tspan x="48.5" dy="6.5">hmart_movie.aggr_deal_box_day</tspan><tspan x="48.5" dy="6.5">lipeng10@meituan.com</tspan><tspan x="48.5" dy="6.5">hadoop01.mart_movie.aggr_deal_box_day</tspan></text></g>
<g id="n_hmart_aggr_deal_person_day" class="nd" transform="translate(748,641)"><rect width="98" height="36"/><text y="6.5"><tspan x="49">2015-09-12 11:20:05 -- 2015-09-12 11:25:15</tspan><tspan x="49" dy="6.5">310ms</tspan><tspan x="49" dy="6.5">hmart_movie.aggr_deal_person_day</tspan><tspan x="49" dy="6.5">lipeng10@meituan.com</tspan><tspan x="49" dy="6.5">hadoop01.mart_movie.aggr_deal_person_day</tspan></text></g>
<g id="n_hmart_detail_user_base_info" class="nd g" transform="translate(864,641)"><rect width="98" height="36"/><text y="6.5"><tspan x="49">2015-09-12 06:52:01 -- 2015-09-12 07:33:06</tspan><tspan x="49" dy="6.5">2,465ms</tspan><tspan x="49" dy="6.5">hmart_movie.detail_user_base_info</tspan><tspan x="49" dy="6.5">lipeng10@meituan.com</tspan><tspan x="49" dy="6.5">hadoop01.mart_movie.detail_user_base_info</tspan></text></g>
<g id="n_mobile_movie_movie_deal_info" class="nd" transform="translate(968,641)"><rect width="96" height="36"/><text y="6.5"><tspan x="48">2015-09-12 06:53:01 -- 2015-09-12 06:55:43</tspan><tspan x="48" dy="6.5">162ms</tspan><tspan x="48" dy="6.5">mobile.movie_movie_deal_info</tspan><tspan x="48" dy="6.5">lipeng10@meituan.com</tspan><tspan x="48" dy="6.5">dbdatasyp05.mobile.movie_movie_deal_info</tspan></text></g>
<g id="n_movie_hd_seating_report" class="nd g" transform="translate(1069,641)"><rect width="104" height="36"/><text y="6.5"><tspan x="52">2015-09-12 06:53:01 -- 2015-09-12 06:55:07</tspan><tspan x="52" dy="6.5">126ms</tspan><tspan x="52" dy="6.5">movie_hd.seating_report</tspan><tspan x="52" dy="6.5">lipeng10@meituan.com</tspan><tspan x="52" dy="6.5">movie-mysql-adhoc01.movie_hd.seating_report</tspan></text></g>
<g id="n_mobile_movie_sell_summary_month" class="nd" transform="translate(1265,641)"><rect width="116" height="36"/><text y="6.5"><tspan x="58">2015-09-01 11:22:58 -- 2015-09-01 12:13:07</tspan><tspan x="58" dy="6.5">3,009ms</tspan><tspan x="58" dy="6.5">mobile.movie_sell_summary_info_month</tspan><tspan x="58" dy="6.5">lipeng10@meituan.com</tspan><tspan x="58" dy="6.5">dbdatasyp05.mobile.movie_sell_summary_info_month</tspan></text></g>
<g id="n_mobile_movie_poi_groupon_day" class="nd g" transform="translate(319,689)"><rect width="97" height="36"/><text y="6.5"><tspan x="48.5">2015-09-12 06:59:23 -- 2015-09-12 06:59:44</tspan><tspan x="48.5" dy="6.5">21ms</tspan><tspan x="48.5" dy="6.5">mobile.movie_poi_groupon_day</tspan><tspan x="48.5" dy="6.5">lipeng10@meituan.com</tspan><tspan x="48.5" dy="6.5">dbdatasyp05.mobile.movie_poi_groupon_day</tspan></text></g>
<g id="n_mobile_movie_poi_deal_user_day" class="nd g" transform="translate(425,689)"><rect width="98" height="36"/><text y="6.5"><tspan x="49">2015-09-11 15:15:57 -- 2015-09-11 15:17:09</tspan><tspan x="49" dy="6.5">72ms</tspan><tspan x="49" dy="6.5">mobile.movie_poi_deal_user_day</tspan><tspan x="49" dy="6.5">lipeng10@meituan.com</tspan><tspan x="49" dy="6.5">dbdatasyp05.mobile.movie_poi_deal_user_day</tspan></text></g>
<g id="n_hmart_aggr_deal_user_day" class="nd" transform="translate(588,689)"><rect width="96" height="36"/><text y="6.5"><tspan x="48">2015-09-11 15:04:47 -- 2015-09-11 15:09:33</tspan><tspan x="48" dy="6.5">286ms</tspan><tspan x="48" dy="6.5">hmart_movie.aggr_deal_user_day</tspan><tspan x="48" dy="6.5">lipeng10@meituan.com</tspan><tspan x="48" dy="6.5">hadoop01.mart_movie.aggr_deal_user_day</tspan></text></g>
<g id="n_hmart_aggr_deal_cost_day" class="nd" transform="translate(806,689)"><rect width="96" height="36"/><text y="6.5"><tspan x="48">2015-09-11 15:15:05 -- 2015-09-11 15:18:24</tspan><tspan x="48" dy="6.5">199ms</tspan><tspan x="48" dy="6.5">hmart_movie.aggr_deal_cost_day</tspan><tspan x="48" dy="6.5">lipeng10@meituan.com</tspan><tspan x="48" dy="6.5">hadoop01.mart_movie.aggr_deal_cost_day</tspan></text></g>
<g id="n_horigin_mobile_sell_summary" class="nd" transform="translate(1249,689)"><rect width="147" height="36"/><text y="6.5"><tspan x="73.5">2015-09-01 12:13:13 -- 2015-09-01 12:16:31</tspan><tspan x="73.5" dy="6.5">198ms</tspan><tspan x="73.5" dy="6.5">horigin_mobile.mobile__movie_sell_summary_info_month</tspan><tspan x="73.5" dy="6.5">lipeng10@meituan.com</tspan><tspan x="73.5" dy="6.5">hadoop01.origin_mobile.mobile__movie_sell_summary_info_month</tspan></text></g>
<g id="n_mobile_movie_deal_user_day" class="nd" transform="translate(543,737)"><rect width="96" height="36"/><text y="6.5"><tspan x="48">2015-09-11 15:30:01 -- 2015-09-11 15:30:32</tspan><tspan x="48" dy="6.5">31ms</tspan><tspan x="48" dy="6.5">mobile.movie_deal_user_day</tspan><tspan x="48" dy="6.5">lipeng10@meituan.com</tspan><tspan x="48" dy="6.5">dbdatasyp05.mobile.movie_deal_user_day</tspan></text></g>
<g id="n_mobile_movie_deal_box_day" class="nd" transform="translate(646,737)"><rect width="96" height="36"/><text y="6.5"><tspan x="48">2015-09-11 15:15:04 -- 2015-09-11 15:15:30</tspan><tspan x="48" dy="6.5">26ms</tspan><tspan x="48" dy="6.5">mobile.movie_deal_box_day</tspan><tspan x="48" dy="6.5">lipeng10@meituan.com</tspan><tspan x="48" dy="6.5">dbdatasyp05.mobile.movie_deal_box_day</tspan></text></g>
<g id="n_mobile_movie_deal_person_day" class="nd" transform="translate(748,737)"><rect width="96" height="36"/><text y="6.5"><tspan x="48">2015-09-11 15:15:05 -- 2015-09-11 15:15:32</tspan><tspan x="48" dy="6.5">27ms</tspan><tspan x="48" dy="6.5">mobile.movie_deal_person_day</tspan><tspan x="48" dy="6.5">lipeng10@meituan.com</tspan><tspan x="48" dy="6.5">dbdatasyp05.mobile.movie_deal_person_day</tspan></text></g>
<g id="n_mobile_movie_deal_cost_day" class="nd" transform="translate(850,737)"><rect width="97" height="36"/><text y="6.5"><tspan x="48.5">2015-09-11 15:30:01 -- 2015-09-11 15:30:55</tspan><tspan x="48.5" dy="6.5">54ms</tspan><tspan x="48.5" dy="6.5">mobile.movie_deal_cost_day</tspan><tspan x="48.5" dy="6.5">lipeng10@meituan.com</tspan><tspan x="48.5" dy="6.5">dbdatasyp05.mobile.movie_deal_cost_day</tspan></text></g>
<g id="n_data_mobilemovie_sh" class="nd" transform="translate(1252,737)"><rect width="142" height="36"/><text y="6.5"><tspan x="71">2015-09-01 12:28:49 -- 2015-09-01 12:35:51</tspan><tspan x="71" dy="6.5">302ms</tspan><tspan x="71" dy="6.5">data.mobilemoviesellsummaryinfo_month.sh</tspan><tspan x="71" dy="6.5">liuyishan@meituan.com</tspan><tspan x="71" dy="6.5">data-open-hadoop01.data.mobilemoviesellsummaryinfo_month.sh</tspan></text></g>
<g id="n_bottom_cut" class="nd g" transform="translate(1262,784)"><rect width="121" height="36"/></g>
</g>
<g id="diamonds">
<g id="d_56509" class="dm"><polygon points="909,707 977,689 1045,707 977,725"/><text x="977" y="701">STAT_XMLTABLEVIEW_56509</text><text x="977" y="708">qupeng@meituan.com</text><text x="977" y="715">56509 猫眼电影日度票房报表</text></g>
<g id="d_41756" class="dm"><polygon points="1052,707 1147,689 1242,707 1147,725"/><text x="1147" y="701">STAT_XMLTABLEVIEW_41756</text><text x="1147" y="708">taoziyang@meituan.com</text><text x="1147" y="715">41756 电影交易额分影院统计_汇总表_日报</text></g>
<g id="d_right_cut" class="dm"><polygon points="1402,707 1470,689 1538,707 1470,725"/></g>
</g>
<g id="frame">
<rect x="0" y="0" width="1440" height="8.5" fill="#efefeb"/>
<rect x="0" y="8" width="1440" height="1" fill="#c9c9c5"/>
<rect x="0" y="786" width="1440" height="9" fill="#efefeb"/>
<rect x="0" y="785.5" width="1440" height="0.8" fill="#d4d4d0"/>
<rect x="0" y="0" width="2.6" height="795" fill="#4d4d4d"/>
<rect x="1437" y="8" width="1.2" height="778" fill="#777"/>
<rect x="1438.2" y="8" width="1.8" height="778" fill="#efefeb"/>
</g>
</svg>
